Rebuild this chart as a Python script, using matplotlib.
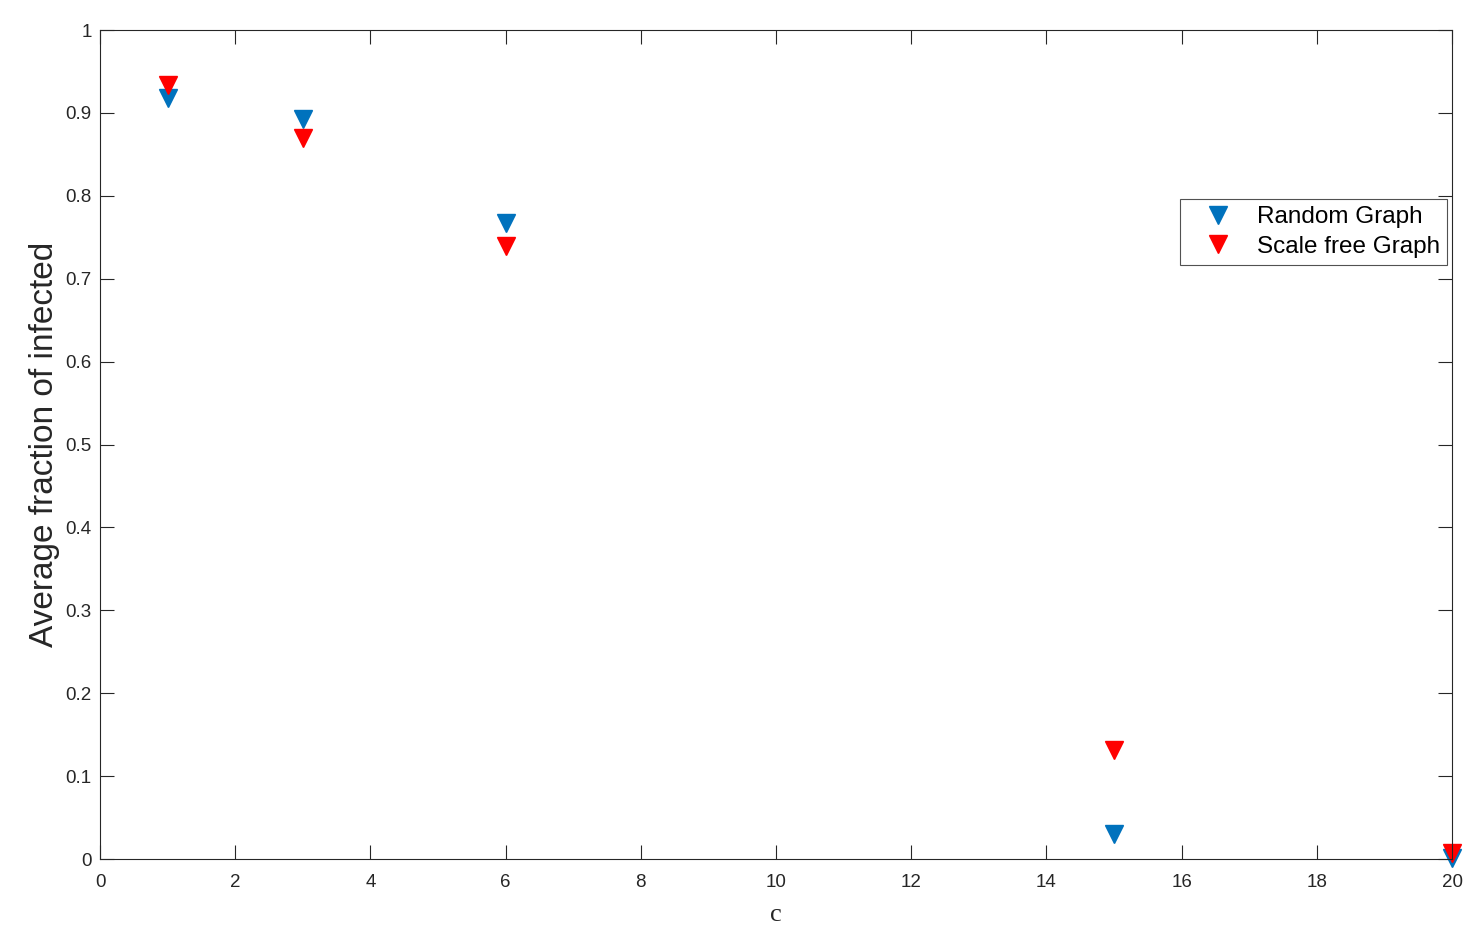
import matplotlib
matplotlib.use("Agg")
import matplotlib.pyplot as plt

c_values = [1, 3, 6, 15, 20]
random_graph = [0.918, 0.893, 0.767, 0.030, 0.001]
scale_free = [0.934, 0.870, 0.740, 0.131, 0.007]
x_ticks = [0, 2, 4, 6, 8, 10, 12, 14, 16, 18, 20]
y_ticks = [0, 0.1, 0.2, 0.3, 0.4, 0.5, 0.6, 0.7, 0.8, 0.9, 1]
y_tick_labels = ["0", "0.1", "0.2", "0.3", "0.4", "0.5", "0.6", "0.7", "0.8", "0.9", "1"]

plt.rcParams['font.family'] = ['Liberation Sans', 'DejaVu Sans']
axc = '#262626'

fig = plt.figure(figsize=(14.77, 9.39), dpi=100)
ax = fig.add_axes([100/1477, 80/939, 1352/1477, 829/939])

ax.plot(c_values, random_graph, linestyle='none', marker='v', markersize=13.5,
        color='#0072BD', label='Random Graph', clip_on=False)
ax.plot(c_values, scale_free, linestyle='none', marker='v', markersize=13.5,
        color='#FF0000', label='Scale free Graph', clip_on=False)

ax.set_xlim(0, 20)
ax.set_ylim(0, 1)
ax.set_xticks(x_ticks)
ax.set_yticks(y_ticks)
ax.set_yticklabels(y_tick_labels)
ax.tick_params(direction='in', length=10, width=0.8, colors=axc, labelsize=13.5,
               top=True, right=True, labelcolor='#262626')
ax.tick_params(axis='x', pad=11)
ax.tick_params(axis='y', pad=6)
for s in ax.spines.values():
    s.set_color(axc)
    s.set_linewidth(0.8)

ax.set_ylabel('Average fraction of infected', fontsize=24, color='#262626', labelpad=4)
ax.set_xlabel('c', fontsize=19, family='Liberation Serif', color='#262626', labelpad=9)

leg = ax.legend(loc='upper right', bbox_to_anchor=(0.9963, 0.796), fontsize=17.5,
                frameon=True, fancybox=False, borderpad=0.3, handletextpad=0.27,
                labelspacing=0.3, handlelength=2.6, borderaxespad=0)
leg.get_frame().set_edgecolor(axc)
leg.get_frame().set_linewidth(0.8)

fig.savefig('out.png', dpi=100)
